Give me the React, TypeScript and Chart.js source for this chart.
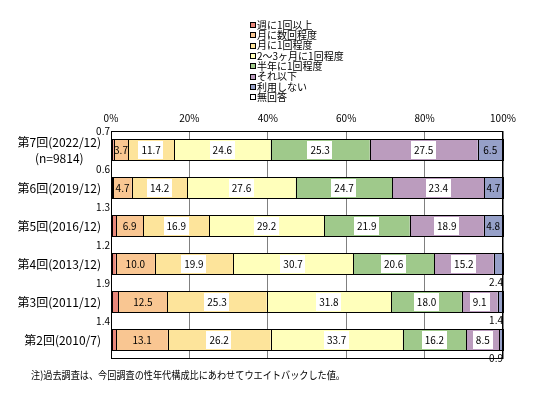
import React, { useEffect, useRef } from "react";
import { Chart, registerables } from "chart.js";

Chart.register(...registerables);

const categories: string[][] = [
  ["第7回(2022/12)", "(n=9814)"],
  ["第6回(2019/12)"],
  ["第5回(2016/12)"],
  ["第4回(2013/12)"],
  ["第3回(2011/12)"],
  ["第2回(2010/7)"],
];

const seriesNames = [
  "週に1回以上",
  "月に数回程度",
  "月に1回程度",
  "2～3ヶ月に1回程度",
  "半年に1回程度",
  "それ以下",
  "利用しない",
  "無回答",
];

const weekly = [0.7, 0.6, 1.3, 1.2, 1.9, 1.4];
const severalPerMonth = [3.7, 4.7, 6.9, 10.0, 12.5, 13.1];
const oncePerMonth = [11.7, 14.2, 16.9, 19.9, 25.3, 26.2];
const every2to3Months = [24.6, 27.6, 29.2, 30.7, 31.8, 33.7];
const everyHalfYear = [25.3, 24.7, 21.9, 20.6, 18.0, 16.2];
const lessOften = [27.5, 23.4, 18.9, 15.2, 9.1, 8.5];
const notUsing = [6.5, 4.7, 4.8, 2.4, 1.4, 0.9];
const noAnswer = [0, 0, 0, 0, 0, 0];

const xTickValues = [0, 20, 40, 60, 80, 100];

const noteText = "注)過去調査は、今回調査の性年代構成比にあわせてウエイトバックした値。";

const colors = [
  "#E9877A",
  "#F9C692",
  "#FDE49B",
  "#FFFFBB",
  "#9FC98B",
  "#BB9CBE",
  "#96A0C8",
  "#FFFFFF",
];

const FONT = "'Noto Sans CJK JP', sans-serif";

const decorPlugin = {
  id: "decor",
  afterDatasetsDraw(chart: any) {
    const ctx: CanvasRenderingContext2D = chart.ctx;
    const area = chart.chartArea;
    ctx.save();

    // segment outlines
    ctx.strokeStyle = "#000";
    ctx.lineWidth = 1;
    chart.data.datasets.forEach((ds: any, di: number) => {
      const meta = chart.getDatasetMeta(di);
      meta.data.forEach((el: any, j: number) => {
        const v = ds.data[j] as number;
        if (!v) return;
        const p = el.getProps(["x", "base", "y", "height"], true);
        const x0 = Math.round(Math.min(p.x, p.base)) + 0.5;
        const x1 = Math.round(Math.max(p.x, p.base)) + 0.5;
        const y0 = Math.round(p.y - p.height / 2) + 0.5;
        const y1 = Math.round(p.y + p.height / 2) - 0.5;
        ctx.strokeRect(x0, y0, x1 - x0, y1 - y0);
      });
    });

    // plot border
    const l = Math.round(area.left) + 0.5;
    const t = Math.round(area.top) + 0.5;
    const r = Math.round(area.right) - 0.5;
    const b = Math.round(area.bottom) - 0.5;
    ctx.strokeRect(l, t, r - l, b - t);

    // data labels
    ctx.font = `10px ${FONT}`;
    ctx.textBaseline = "middle";
    chart.data.datasets.forEach((ds: any, di: number) => {
      const meta = chart.getDatasetMeta(di);
      meta.data.forEach((el: any, j: number) => {
        const v = ds.data[j] as number;
        if (di === 7) return;
        const p = el.getProps(["x", "base", "y", "height"], true);
        const txt = v.toFixed(1);
        const top = p.y - p.height / 2;
        const bottom = p.y + p.height / 2;
        if (di === 0) {
          ctx.fillStyle = "#000";
          ctx.textAlign = "right";
          ctx.fillText(txt, area.left - 1, top - 8);
          return;
        }
        if (di === 6 && v < 3) {
          ctx.fillStyle = "#000";
          ctx.textAlign = "right";
          ctx.fillText(txt, area.right, bottom + 7);
          return;
        }
        const cx = (p.x + p.base) / 2;
        const w = ctx.measureText(txt).width;
        if (di >= 2 && di <= 5) {
          ctx.fillStyle = "#fff";
          ctx.fillRect(Math.round(cx - w / 2 - 3), Math.round(p.y - 9), Math.round(w + 6), 18);
        }
        ctx.fillStyle = "#000";
        ctx.textAlign = "center";
        ctx.fillText(txt, cx, p.y + 0.5);
      });
    });

    // category labels
    const yScale = chart.scales.y;
    ctx.font = `12px ${FONT}`;
    ctx.fillStyle = "#000";
    chart.data.labels.forEach((lab: string[], i: number) => {
      const cy = yScale.getPixelForValue(i);
      const right = area.left - 10;
      const w0 = ctx.measureText(lab[0]).width;
      const lh = 16;
      const y0 = cy - ((lab.length - 1) * lh) / 2;
      ctx.textAlign = "right";
      ctx.fillText(lab[0], right, y0, 84);
      for (let k = 1; k < lab.length; k++) {
        ctx.textAlign = "center";
        ctx.fillText(lab[k], right - Math.min(w0, 84) / 2, y0 + k * lh);
      }
    });

    // legend
    ctx.font = `10px ${FONT}`;
    ctx.textAlign = "left";
    chart.data.datasets.forEach((ds: any, i: number) => {
      const y = 25 + i * 10.3;
      const by = Math.round(y - 3);
      ctx.fillStyle = ds.backgroundColor;
      ctx.fillRect(250, by, 6, 6);
      ctx.strokeStyle = "#000";
      ctx.strokeRect(250.5, by + 0.5, 5, 5);
      ctx.fillStyle = "#000";
      ctx.fillText(ds.label, 257, y);
    });

    // note
    ctx.font = `10.5px ${FONT}`;
    ctx.textAlign = "left";
    ctx.fillText(noteText, 31, 375, 314);

    ctx.restore();
  },
};

export default function App() {
  const ref = useRef<HTMLCanvasElement | null>(null);

  useEffect(() => {
    if (!ref.current) return;
    const series = [
      weekly,
      severalPerMonth,
      oncePerMonth,
      every2to3Months,
      everyHalfYear,
      lessOften,
      notUsing,
      noAnswer,
    ];
    const chart = new Chart(ref.current, {
      type: "bar",
      data: {
        labels: categories as any,
        datasets: series.map((d, i) => ({
          label: seriesNames[i],
          data: d,
          backgroundColor: colors[i],
          borderWidth: 0,
          inflateAmount: 0,
          categoryPercentage: 0.58,
          barPercentage: 1,
        })),
      },
      options: {
        indexAxis: "y",
        responsive: false,
        animation: false,
        devicePixelRatio: 1,
        layout: { padding: { left: 111, right: 46, top: 105, bottom: 39 } },
        plugins: { legend: { display: false }, tooltip: { enabled: false } },
        scales: {
          x: {
            position: "top",
            stacked: true,
            min: 0,
            max: 100,
            afterBuildTicks: (scale: any) => {
              scale.ticks = xTickValues.map((v) => ({ value: v }));
            },
            ticks: {
              callback: (v: any) => `${v}%`,
              font: { size: 10, family: FONT },
              color: "#000",
              padding: 7,
            },
            grid: { color: "#808080", drawTicks: false, lineWidth: 1 },
            border: { display: false },
          },
          y: {
            stacked: true,
            display: false,
          },
        },
      },
      plugins: [decorPlugin],
    });
    return () => chart.destroy();
  }, []);

  return (
    <div style={{ position: "absolute", left: 0, top: 0, width: 549, height: 398, background: "#fff" }}>
      <canvas ref={ref} width={549} height={398} style={{ width: 549, height: 398 }} />
    </div>
  );
}
